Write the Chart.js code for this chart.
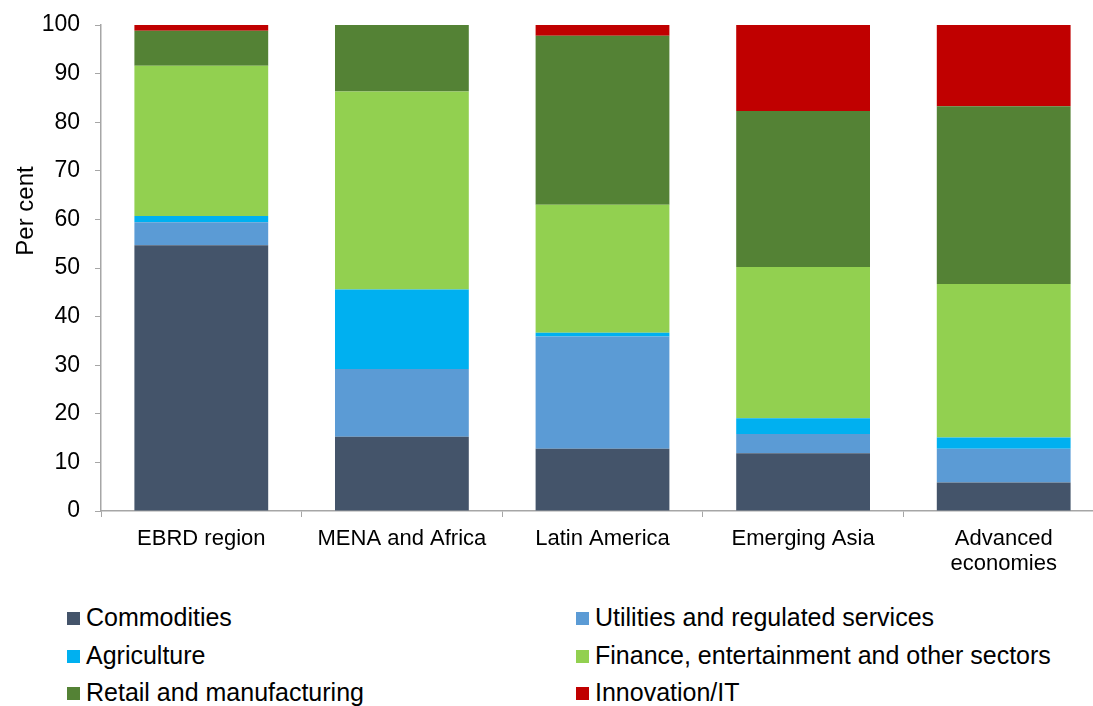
<!DOCTYPE html>
<html>
<head>
  <meta charset="UTF-8" />
  <title>Sector composition by region</title>
  <style>
    html, body { margin: 0; padding: 0; background: #fff; overflow: hidden; }
    #wrap { position: relative; width: 1106px; height: 706px; }
    #legend { position: absolute; left: 0; top: 0; font-family: "Liberation Sans", Arial, sans-serif; font-size: 25px; line-height: 25px; color: #000; }
    .item { position: absolute; white-space: nowrap; }
    .swatch { position: absolute; left: 0; top: 7px; width: 13px; height: 13px; }
    .label { position: absolute; left: 19px; top: 0; }
  </style>
</head>
<body>
  <div id="wrap">
    <canvas id="sectorChart" width="1106" height="590"></canvas>
    <div id="legend"></div>
  </div>
  <script src="https://cdn.jsdelivr.net/npm/chart.js"></script>
  <script>
    const categories = ['EBRD region', 'MENA and Africa', 'Latin America', 'Emerging Asia', ['Advanced', 'economies']];

    const commodities = [54.7, 15.3, 12.8, 11.9, 5.85];
    const utilities   = [4.7, 13.9, 23.1, 3.95, 6.95];
    const agriculture = [1.3, 16.4, 0.8, 3.25, 2.3];
    const finance     = [30.9, 40.7, 26.3, 31.1, 31.6];
    const retail      = [7.2, 13.7, 34.8, 32.1, 36.6];
    const innovation  = [1.2, 0, 2.2, 17.7, 16.7];

    const font = '"Liberation Sans", Arial, sans-serif';
    const axisColor = '#A6A6A6';

    const series = (label, values, color) => ({
      label: label,
      data: values,
      backgroundColor: color,
      borderWidth: 0,
      barPercentage: 0.667,
      categoryPercentage: 1
    });

    // y axis title sits above centre in the original, so it is drawn by hand
    const yTitle = {
      id: 'yTitle',
      afterDraw(chart) {
        const ctx = chart.ctx;
        ctx.save();
        ctx.translate(33, 211);
        ctx.rotate(-Math.PI / 2);
        ctx.font = '24px ' + font;
        ctx.fillStyle = '#000';
        ctx.textAlign = 'center';
        ctx.textBaseline = 'alphabetic';
        ctx.fillText('Per cent', 0, 0);
        ctx.restore();
      }
    };

    const chart = new Chart(document.getElementById('sectorChart'), {
      type: 'bar',
      data: {
        labels: categories,
        datasets: [
          series('Commodities', commodities, '#44546A'),
          series('Utilities and regulated services', utilities, '#5B9BD5'),
          series('Agriculture', agriculture, '#00B0F0'),
          series('Finance, entertainment and other sectors', finance, '#92D050'),
          series('Retail and manufacturing', retail, '#548235'),
          series('Innovation/IT', innovation, '#C00000')
        ]
      },
      options: {
        responsive: false,
        animation: false,
        devicePixelRatio: 1,
        layout: { padding: { left: 40, top: 25, right: 2, bottom: 0 } },
        plugins: {
          legend: { display: false },
          tooltip: { enabled: false }
        },
        scales: {
          x: {
            stacked: true,
            afterFit(scale) { scale.height = 79; },
            grid: { drawOnChartArea: false, drawTicks: true, tickLength: 6, color: axisColor },
            border: { color: axisColor, width: 1.5 },
            ticks: { color: '#000', padding: 9, maxRotation: 0, font: { family: font, size: 22, lineHeight: 1.15 } }
          },
          y: {
            stacked: true,
            min: 0,
            max: 100,
            afterFit(scale) {
              // tick padding would otherwise push the plot top down
              scale.width = 61;
              scale.paddingTop = 12;
              scale.paddingBottom = 12;
            },
            grid: { drawOnChartArea: false, drawTicks: true, tickLength: 6, color: axisColor },
            border: { color: axisColor, width: 1.5 },
            ticks: { stepSize: 10, color: '#000', padding: 15, font: { family: font, size: 23 } }
          }
        }
      },
      plugins: [yTitle]
    });

    // two-column legend below the chart, row by row
    const legend = document.getElementById('legend');
    const colX = [67, 576];
    const rowY = [605, 643, 680];
    chart.data.datasets.forEach((ds, i) => {
      const item = document.createElement('div');
      item.className = 'item';
      item.style.left = colX[i % 2] + 'px';
      item.style.top = rowY[Math.floor(i / 2)] + 'px';
      const sw = document.createElement('span');
      sw.className = 'swatch';
      sw.style.background = ds.backgroundColor;
      const tx = document.createElement('span');
      tx.className = 'label';
      tx.textContent = ds.label;
      item.appendChild(sw);
      item.appendChild(tx);
      legend.appendChild(item);
    });
  </script>
</body>
</html>
